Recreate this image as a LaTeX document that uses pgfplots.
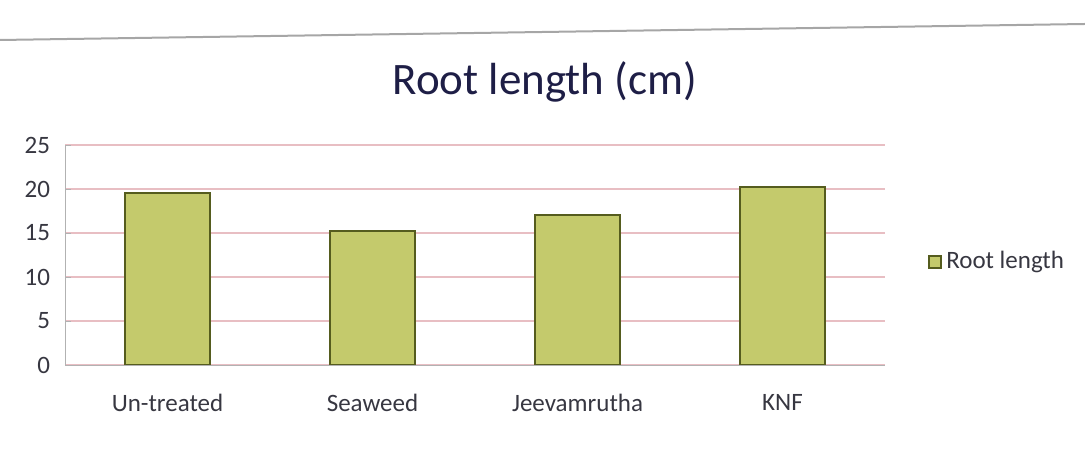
\documentclass[border=0pt]{standalone}
\usepackage{pgfplots}
\pgfplotsset{compat=1.18}
\usepackage{fontspec}
\setmainfont{Carlito}
\definecolor{barfill}{RGB}{196,202,108}
\definecolor{baredge}{RGB}{85,92,30}
\definecolor{gridpink}{RGB}{232,190,195}
\definecolor{titlecol}{RGB}{30,30,70}
\definecolor{labcol}{RGB}{55,55,65}
\begin{document}
\begin{tikzpicture}
\path[use as bounding box] (0,0) rectangle (542.5pt,227pt);
\draw[gray!70, line width=1pt] (0,207pt) -- (542.5pt,215pt);
\begin{axis}[
  at={(32.5pt,44.5pt)}, anchor=south west,
  scale only axis, width=410pt, height=110pt,
  xmin=-0.5, xmax=3.5, ymin=0, ymax=25,
  ytick={0,5,...,25},
  xtick={0,1,2,3},
  xticklabels={Un-treated,Seaweed,Jeevamrutha,KNF},
  x tick label style={yshift=-11pt},
  y tick label style={xshift=-4pt},
  ymajorgrids, major grid style={gridpink, line width=0.6pt},
  axis x line*=bottom, axis y line*=left,
  axis line style={gray!60},
  tick style={gray!60},
  major tick length=3pt,
  xtick style={draw=none},
  tick label style={font=\fontsize{12.5}{14}\selectfont, text=labcol},
  /pgf/number format/assume math mode=true,
  title={Root length (cm)},
  title style={at={(0.585,1)}, anchor=south, yshift=12pt, font=\fontsize{22.5}{26}\selectfont, text=titlecol},
  legend style={at={(1.045,0.47)}, anchor=west, draw=none, fill=none,
    font=\fontsize{12.5}{14}\selectfont, text=labcol},
  legend image code/.code={\draw[#1] (0pt,-3pt) rectangle (6pt,3pt);},
]
\addplot[ybar, bar width=42.5pt, fill=barfill, draw=baredge, line width=1pt]
  coordinates {(0,19.5) (1,15.2) (2,17.0) (3,20.2)};
\addlegendentry{Root length}
\end{axis}
\end{tikzpicture}
\end{document}
